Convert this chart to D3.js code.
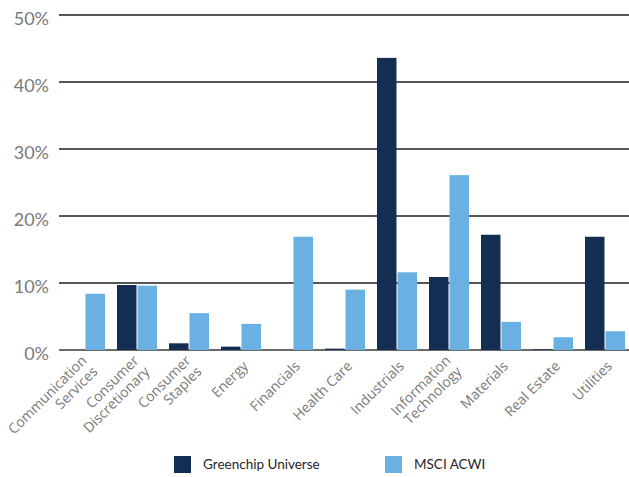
<!DOCTYPE html>
<html>
<head>
<meta charset="utf-8">
<script src="https://cdn.jsdelivr.net/npm/d3@7"></script>
<style>
  body { margin: 0; background: #fff; }
  svg { display: block; font-family: "Lato", "Open Sans", sans-serif; }
</style>
</head>
<body>
<svg></svg>
<script>
const size = { w: 629, h: 477 };
const margin = { t: 15, r: -2, b: 127, l: 59 };

// sector labels (two lines where the original wraps)
const categories = [
  ["Communication", "Services"],
  ["Consumer", "Discretionary"],
  ["Consumer", "Staples"],
  ["Energy"],
  ["Financials"],
  ["Health Care"],
  ["Industrials"],
  ["Information", "Technology"],
  ["Materials"],
  ["Real Estate"],
  ["Utilities"],
];
const seriesNames = ["Greenchip Universe", "MSCI ACWI"];
const greenchip = [0, 9.7, 1.0, 0.5, 0, 0.2, 43.6, 10.9, 17.2, 0.1, 16.9];
const msci = [8.4, 9.6, 5.5, 3.9, 16.9, 9.0, 11.6, 26.1, 4.2, 1.9, 2.8];
const yTicks = [0, 10, 20, 30, 40, 50];
const colors = ["#142d53", "#6bb0e2"];

const svg = d3.select("svg").attr("width", size.w).attr("height", size.h);

const catKeys = categories.map((d) => d.join(" "));
const rows = catKeys.map((k, i) => ({ key: k, values: [greenchip[i], msci[i]] }));

const x = d3
  .scaleBand()
  .domain(catKeys)
  .range([margin.l, size.w - margin.r])
  .paddingInner(0.23)
  .paddingOuter(0.115);

const xSub = d3
  .scaleBand()
  .domain([0, 1])
  .range([0, x.bandwidth()])
  .paddingInner(0.05);

const y = d3
  .scaleLinear()
  .domain([0, 50])
  .range([size.h - margin.b, margin.t]);

// --------- GRID + Y LABELS ----------
const gridG = svg.append("g").classed("grid", true);
gridG
  .selectAll("line")
  .data(yTicks)
  .join("line")
  .attr("x1", margin.l)
  .attr("x2", size.w)
  .attr("y1", (d) => y(d))
  .attr("y2", (d) => y(d))
  .attr("stroke", (d) => (d === 0 ? "#6b6b6b" : "#1e1e1e"))
  .attr("stroke-width", (d) => (d === 0 ? 2 : 1.3));

gridG
  .selectAll("text")
  .data(yTicks)
  .join("text")
  .attr("x", 49)
  .attr("y", (d) => y(d) + 10)
  .attr("text-anchor", "end")
  .attr("fill", "#7a7a7a")
  .style("font-size", "18px")
  .text((d) => d + "%");

// --------- BARS ----------
const barsG = svg.append("g").classed("bars", true);
barsG
  .selectAll("g")
  .data(rows)
  .join("g")
  .attr("transform", (d) => `translate(${x(d.key)},0)`)
  .selectAll("rect")
  .data((d) => d.values)
  .join("rect")
  .attr("x", (d, i) => xSub(i))
  .attr("width", xSub.bandwidth())
  .attr("y", (d) => y(d))
  .attr("height", (d) => y(0) - y(d))
  .attr("fill", (d, i) => colors[i]);

// --------- X LABELS ----------
const lineH = 15.5;
const labelsG = svg.append("g").classed("x-labels", true);
labelsG
  .selectAll("text")
  .data(categories)
  .join("text")
  .attr("transform", (d, i) => `translate(${x(catKeys[i]) + x.bandwidth() / 2 + 8},${y(0) + 17}) rotate(-45)`)
  .attr("text-anchor", "end")
  .attr("fill", "#7a7a7a")
  .style("font-family", "'Open Sans', sans-serif")
  .style("font-size", "14px")
  .selectAll("tspan")
  .data((d) => d.map((t, j) => ({ t, off: (j - (d.length - 1) / 2) * lineH })))
  .join("tspan")
  .attr("x", 0)
  .attr("y", (d) => d.off)
  .text((d) => d.t);

// --------- LEGEND ----------
const legendX = [174, 385];
const legendG = svg.append("g").classed("legend", true);
const items = legendG
  .selectAll("g")
  .data(seriesNames)
  .join("g")
  .attr("transform", (d, i) => `translate(${legendX[i]},456)`);
items
  .append("rect")
  .attr("width", 17)
  .attr("height", 17)
  .attr("fill", (d, i) => colors[i]);
items
  .append("text")
  .attr("x", 29)
  .attr("y", 13)
  .attr("fill", "#262626")
  .style("font-size", "13.5px")
  .text((d) => d);
</script>
</body>
</html>
